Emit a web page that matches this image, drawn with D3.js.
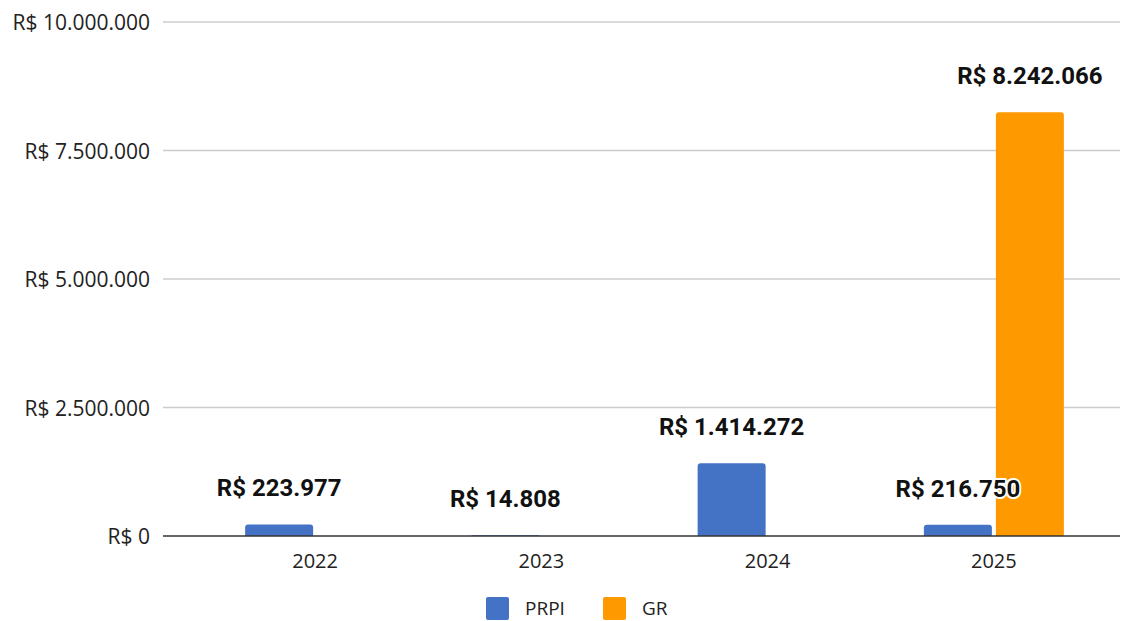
<!DOCTYPE html>
<html>
<head>
<meta charset="utf-8">
<script src="https://cdn.jsdelivr.net/npm/d3@7"></script>
<style>
  body { margin: 0; background: #fff; }
  svg { display: block; }
</style>
</head>
<body>
<svg id="chart" width="1134" height="621"></svg>
<script>
let years = ["2022", "2023", "2024", "2025"];
let seriesNames = ["PRPI", "GR"];
let prpi = [223977, 14808, 1414272, 216750];
let gr = [null, null, null, 8242066];
let yTicks = [0, 2500000, 5000000, 7500000, 10000000];
let colors = ["#4472c4", "#ff9900"];

let svg = d3.select("#chart");
let plotTop = 22, plotBottom = 536;
let gridLeft = 163, gridRight = 1120;

let fmt = v => "R$ " + d3.format(",")(v).replace(/,/g, ".");

let x = d3.scaleBand().domain(years).range([202, 1107]);
let y = d3.scaleLinear().domain([0, 10000000]).range([plotBottom, plotTop]);

// gridlines
svg.append("g").selectAll("line").data(yTicks.slice(1)).enter().append("line")
    .attr("x1", gridLeft).attr("x2", gridRight)
    .attr("y1", d => y(d)).attr("y2", d => y(d))
    .attr("stroke", "#cccccc").attr("stroke-width", 1.5);

// y tick labels
svg.append("g").selectAll("text").data(yTicks).enter().append("text")
    .attr("x", 150).attr("y", d => y(d))
    .attr("text-anchor", "end").attr("dominant-baseline", "central")
    .attr("font-family", "Open Sans").attr("font-size", 21).attr("fill", "#222")
    .text(d => fmt(d));

let rows = [];
years.forEach((yr, i) => {
    if (prpi[i] != null) rows.push({year: yr, series: "PRPI", value: prpi[i], color: colors[0]});
    if (gr[i] != null) rows.push({year: yr, series: "GR", value: gr[i], color: colors[1]});
});

let barW = 68;
let barX = d => x(d.year) + x.bandwidth() / 2 + (d.series == "PRPI" ? -barW - 2 : 2);

// bars with rounded top
let r = 3;
svg.append("g").selectAll("path").data(rows).enter().append("path")
    .attr("fill", d => d.color)
    .attr("d", d => {
        let x0 = barX(d), x2 = x0 + barW, y0 = y(d.value), yb = y(0);
        let rr = Math.min(r, (yb - y0) / 2);
        return "M" + x0 + "," + yb + "V" + (y0 + rr) + "Q" + x0 + "," + y0 + " " + (x0 + rr) + "," + y0
            + "H" + (x2 - rr) + "Q" + x2 + "," + y0 + " " + x2 + "," + (y0 + rr) + "V" + yb + "Z";
    });

// baseline
svg.append("line")
    .attr("x1", gridLeft).attr("x2", gridRight)
    .attr("y1", y(0)).attr("y2", y(0))
    .attr("stroke", "#333").attr("stroke-width", 1.5);

// x tick labels
svg.append("g").selectAll("text").data(years).enter().append("text")
    .attr("x", d => x(d) + x.bandwidth() / 2).attr("y", 560)
    .attr("text-anchor", "middle").attr("dominant-baseline", "central")
    .attr("font-family", "Open Sans").attr("font-size", 20).attr("fill", "#222")
    .text(d => d);

// data labels
svg.append("g").selectAll("text").data(rows).enter().append("text")
    .attr("x", d => barX(d) + barW / 2).attr("y", d => y(d.value) - 36)
    .attr("text-anchor", "middle").attr("dominant-baseline", "central")
    .attr("font-family", "Roboto").attr("font-weight", "bold").attr("font-size", 24)
    .attr("fill", "#111").attr("stroke", "#fff").attr("stroke-width", 4)
    .attr("stroke-linejoin", "round").attr("paint-order", "stroke")
    .text(d => fmt(d.value));

// legend
let legend = svg.append("g");
let legendX = [486, 603];
seriesNames.forEach((s, i) => {
    legend.append("rect")
        .attr("x", legendX[i]).attr("y", 597).attr("width", 23).attr("height", 23)
        .attr("rx", 2).attr("fill", colors[i]);
    legend.append("text")
        .attr("x", legendX[i] + 39).attr("y", 608)
        .attr("dominant-baseline", "central")
        .attr("font-family", "Open Sans").attr("font-size", 19).attr("fill", "#222")
        .text(s);
});
</script>
</body>
</html>
